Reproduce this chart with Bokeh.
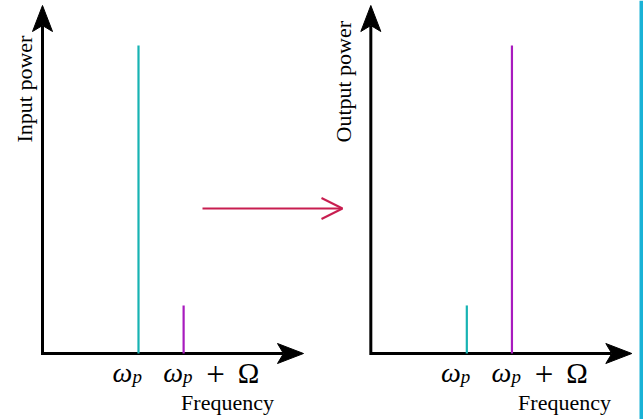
import math
from bokeh.plotting import figure
from bokeh.models import Range1d, Arrow, OpenHead, BoxAnnotation
from bokeh.core.properties import value
from bokeh.embed import file_html
from bokeh.resources import INLINE

# ---------------- data ----------------
freqs = [1.0, 1.47]                 # omega_p , omega_p + Omega
input_power = [1.0, 0.156]
output_power = [0.156, 1.0]
stem_colors = ["#17B3B3", "#A81BBE"]
tick_main = ["ω", "ω"]
tick_sub = ["p", "p"]
tick_plus = ["", "+"]
tick_omega = ["", "Ω"]
x_label = "Frequency"
y_labels = ["Input power", "Output power"]
panel_powers = [input_power, output_power]
panel_offset = 3.42                 # second panel shifted along x

# ---------------- layout helpers ----------------
W, H = 643, 419
X0_PX, Y0_PX, SX, SY = 42.0, 353.0, 96.0, 308.0   # page px of origin, px per unit
def dx(px):
    return (px - X0_PX) / SX
def dy(py):
    return (Y0_PX - py) / SY

p = figure(width=W, height=H,
           x_range=Range1d(dx(0), dx(W)),
           y_range=Range1d(dy(H), dy(0)),
           x_axis_type=None, y_axis_type=None,
           output_backend="svg", toolbar_location=None, min_border=0)
p.grid.visible = False
p.outline_line_color = None
p.background_fill_color = "white"
p.border_fill_color = "white"

SERIF = value("Liberation Serif")
AX_W = 3
HEAD_L, HEAD_HW, HEAD_N = 26.0, 10.0, 20.0

for k, powers in enumerate(panel_powers):
    ox = k * panel_offset
    oxp = X0_PX + ox * SX          # page px of this panel's origin
    # y axis
    tip_y = 5.0
    p.line([ox, ox], [dy(Y0_PX + 1.5), dy(tip_y + HEAD_N)], line_color="black", line_width=AX_W)
    p.patch([ox, ox + HEAD_HW / SX, ox, ox - HEAD_HW / SX],
            [dy(tip_y), dy(tip_y + HEAD_L), dy(tip_y + HEAD_N), dy(tip_y + HEAD_L)],
            fill_color="black", line_color="black", line_width=1)
    # x axis
    tip_x = 303.0 + (oxp - X0_PX)
    p.line([ox, dx(tip_x - HEAD_N)], [0, 0], line_color="black", line_width=AX_W)
    p.patch([dx(tip_x), dx(tip_x - HEAD_L), dx(tip_x - HEAD_N), dx(tip_x - HEAD_L)],
            [0, HEAD_HW / SY, 0, -HEAD_HW / SY],
            fill_color="black", line_color="black", line_width=1)
    # stems
    xs = [f + ox for f in freqs]
    p.segment(x0=xs, y0=[0] * len(xs), x1=xs, y1=powers,
              line_color=stem_colors, line_width=2.2)
    # tick labels
    main_off = [-16, -10.5]
    for i, f in enumerate(xs):
        p.text(x=[f], y=[0], text=[tick_main[i]], x_offset=main_off[i], y_offset=19,
               text_font=SERIF, text_font_style="italic", text_font_size="28px",
               text_align="center", text_baseline="alphabetic", text_color="black")
        p.text(x=[f], y=[0], text=[tick_sub[i]], x_offset=main_off[i] + 10, y_offset=23,
               text_font=SERIF, text_font_style="italic", text_font_size="19px",
               text_align="left", text_baseline="alphabetic", text_color="black")
        if tick_plus[i]:
            p.text(x=[f], y=[0], text=[tick_plus[i]], x_offset=32, y_offset=20,
                   text_font=SERIF, text_font_size="33px",
                   text_align="center", text_baseline="alphabetic", text_color="black")
            p.text(x=[f], y=[0], text=[tick_omega[i]], x_offset=65, y_offset=19,
                   text_font=SERIF, text_font_size="29px",
                   text_align="center", text_baseline="alphabetic", text_color="black")
    # axis labels
    fx = [227.0, 564.0][k]
    p.text(x=[dx(fx)], y=[dy(402)], text=[x_label],
           text_font=SERIF, text_font_size="22px",
           text_align="center", text_baseline="alphabetic", text_color="black")
    ly = [24.0, 343.0][k]
    p.text(x=[dx(ly)], y=[dy(142)], text=[y_labels[k]], angle=math.pi / 2,
           text_font=SERIF, text_font_size="22px",
           text_align="left", text_baseline="alphabetic", text_color="black")

# transfer arrow
p.add_layout(Arrow(end=OpenHead(size=21, line_color="#C81E50", line_width=2),
                   x_start=dx(202), y_start=dy(208), x_end=dx(342), y_end=dy(208),
                   line_color="#C81E50", line_width=2))

# right border strip
p.add_layout(BoxAnnotation(left=dx(639), fill_color="#19B2D6", fill_alpha=1.0,
                           line_alpha=0))

open("out.html", "w").write(file_html(p, INLINE))
